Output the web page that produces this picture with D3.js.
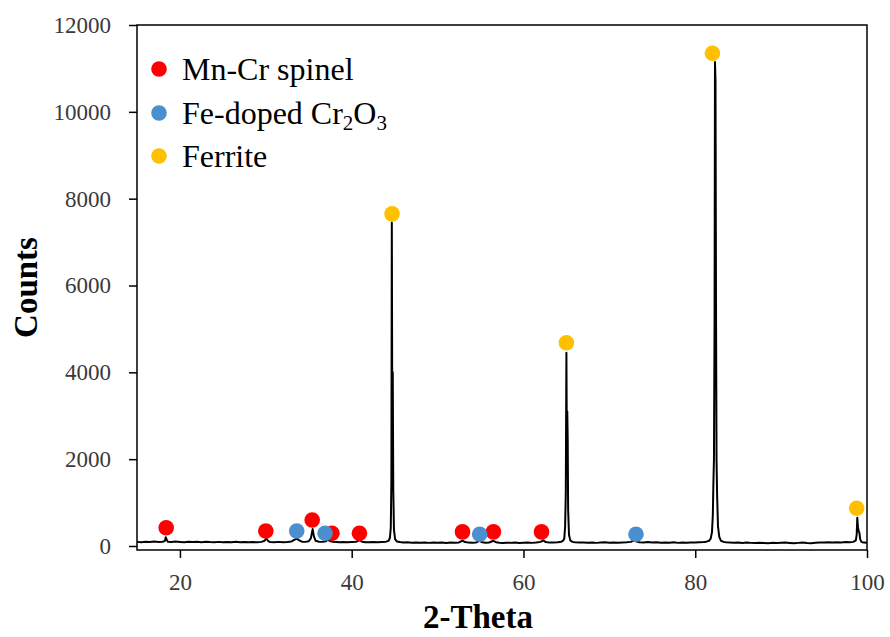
<!DOCTYPE html>
<html><head><meta charset="utf-8">
<script src="https://cdn.jsdelivr.net/npm/d3@7"></script>
<style>
html,body{margin:0;padding:0;background:#fff;}
svg{display:block;}
</style></head>
<body>
<svg id="chart" width="890" height="637"></svg>
<script>
// ---- data ----
const xTicks = [20, 40, 60, 80, 100];
const yTicks = [0, 2000, 4000, 6000, 8000, 10000, 12000];
const legendLabels = ["Mn-Cr spinel", "Fe-doped Cr2O3", "Ferrite"];
const phaseColors = ["#ff0000", "#4a8fcf", "#ffc000"];

// XRD pattern [2theta, counts]
const pattern = [
  [15.0,95],[15.5,88],[16.0,100],[16.5,92],[17.0,105],[17.5,90],[18.0,98],[18.25,120],[18.35,200],[18.45,150],[18.6,95],
  [19.0,90],[19.5,102],[20.0,94],[20.5,88],[21.0,100],[21.5,92],[22.0,96],[22.5,85],[23.0,98],[23.5,90],[24.0,86],
  [24.5,95],[25.0,88],[25.5,93],[26.0,84],[26.5,96],[27.0,88],[27.5,92],[28.0,85],[28.5,90],[29.0,86],[29.5,95],
  [29.85,120],[30.05,175],[30.25,120],[30.5,92],[31.0,88],[31.5,95],[32.0,86],[32.5,92],[33.0,105],[33.3,140],
  [33.6,170],[33.9,130],[34.2,100],[34.6,95],[35.0,110],[35.25,180],[35.45,390],[35.6,220],[35.8,120],[36.2,100],
  [36.6,95],[37.0,110],[37.2,150],[37.45,115],[37.8,95],[38.2,90],[38.6,86],[39.0,92],[39.5,85],[40.0,90],[40.5,95],
  [40.9,135],[41.2,100],[41.6,88],[42.0,84],[42.5,90],[43.0,86],[43.5,92],[44.0,100],[44.3,120],[44.45,190],
  [44.55,420],[44.62,1500],[44.67,7450],[44.72,3300],[44.78,4000],[44.84,1300],[44.92,380],[45.05,160],[45.25,105],
  [45.6,90],[46.0,80],[46.5,84],[47.0,76],[47.5,82],[48.0,74],[48.5,80],[49.0,72],[49.5,78],[50.0,75],[50.5,80],
  [51.0,70],[51.5,78],[52.0,74],[52.5,82],[52.9,125],[53.2,90],[53.6,78],[54.0,74],[54.5,82],[54.9,120],[55.2,86],
  [55.6,76],[56.0,80],[56.5,120],[56.8,88],[57.2,75],[57.6,70],[58.0,76],[58.5,72],[59.0,78],[59.5,70],[60.0,74],
  [60.5,78],[61.0,72],[61.5,80],[62.0,95],[62.3,130],[62.6,90],[63.0,78],[63.5,82],[64.0,88],[64.4,100],[64.6,120],
  [64.75,170],[64.85,450],[64.93,1250],[65.0,4450],[65.05,2300],[65.1,3100],[65.15,2450],[65.2,850],[65.3,260],
  [65.45,130],[65.7,95],[66.0,85],[66.5,78],[67.0,82],[67.5,74],[68.0,80],[68.5,72],[69.0,78],[69.5,84],[70.0,76],
  [70.5,82],[71.0,74],[71.5,80],[72.0,86],[72.5,95],[72.8,125],[73.1,110],[73.5,88],[74.0,80],[74.5,92],[75.0,78],
  [75.5,85],[76.0,74],[76.5,82],[77.0,76],[77.5,84],[78.0,72],[78.5,80],[79.0,76],[79.5,82],[80.0,78],[80.5,84],
  [81.0,90],[81.3,100],[81.6,120],[81.8,170],[81.95,320],[82.05,720],[82.12,1500],[82.18,2000],[82.25,5200],
  [82.3,11150],[82.36,10700],[82.42,5500],[82.48,2000],[82.55,1150],[82.65,450],[82.8,210],[83.0,120],[83.3,95],
  [83.6,84],[84.0,80],[84.5,74],[85.0,82],[85.5,70],[86.0,78],[86.5,72],[87.0,68],[87.5,76],[88.0,70],[88.5,66],
  [89.0,74],[89.5,68],[90.0,72],[90.5,78],[91.0,70],[91.5,64],[92.0,72],[92.5,80],[93.0,70],[93.5,66],[94.0,74],
  [94.5,82],[95.0,78],[95.5,86],[96.0,80],[96.5,88],[97.0,82],[97.5,90],[98.0,86],[98.4,95],[98.7,130],[98.8,260],
  [98.87,650],[98.95,420],[99.05,330],[99.12,300],[99.2,160],[99.35,95],[99.6,78],[100.0,75]
];

// phase markers [2theta, counts]
const spinelX = [18.4, 30.0, 35.4, 37.7, 40.9, 52.9, 56.5, 62.1];
const spinelY = [420, 345, 600, 295, 295, 325, 325, 325];
const cr2o3X = [33.6, 36.9, 54.9, 73.1];
const cr2o3Y = [345, 295, 270, 270];
const ferriteX = [44.7, 65.0, 82.0, 98.8];
const ferriteY = [7650, 4680, 11350, 870];

// ---- layout ----
const svg = d3.select("#chart");
const L = 137, R = 867, T = 25, B = 550;
const x = d3.scaleLinear().domain([15, 100]).range([L, R]);
const y = d3.scaleLinear().domain([0, 12000]).range([546, 25]);
const serif = "'Liberation Serif','Times New Roman',serif";

// box
svg.append("rect").attr("x", L).attr("y", T).attr("width", R - L).attr("height", B - T)
  .attr("fill", "none").attr("stroke", "#000").attr("stroke-width", 1.5);

// x axis
const xAxis = svg.append("g").attr("transform", `translate(0,${B})`)
  .call(d3.axisBottom(x).tickValues(xTicks).tickSize(8).tickPadding(16).tickFormat(d3.format("d")));
xAxis.select(".domain").remove();
xAxis.selectAll("line").attr("stroke", "#000").attr("stroke-width", 1.5);
xAxis.selectAll("text").attr("font-family", serif).attr("font-size", 23).attr("fill", "#3a3a3a");

// y axis
const yAxis = svg.append("g").attr("transform", `translate(${L},0)`)
  .call(d3.axisLeft(y).tickValues(yTicks).tickSize(8).tickPadding(18).tickFormat(d3.format("d")));
yAxis.select(".domain").remove();
yAxis.selectAll("line").attr("stroke", "#000").attr("stroke-width", 1.5);
yAxis.selectAll("text").attr("font-family", serif).attr("font-size", 23).attr("fill", "#3a3a3a");

// axis titles
svg.append("text").attr("x", 478).attr("y", 628).attr("text-anchor", "middle")
  .attr("font-family", serif).attr("font-weight", "bold").attr("font-size", 33).text("2-Theta");
svg.append("text").attr("transform", `translate(37,${(T + B) / 2}) rotate(-90)`).attr("text-anchor", "middle")
  .attr("font-family", serif).attr("font-weight", "bold").attr("font-size", 33).text("Counts");

// pattern line
svg.append("path").datum(pattern)
  .attr("fill", "none").attr("stroke", "#000").attr("stroke-width", 2).attr("stroke-linejoin", "round")
  .attr("d", d3.line().x(d => x(d[0])).y(d => y(d[1])));

// markers
function dots(xs, ys, color) {
  svg.append("g").selectAll("circle").data(xs.map((v, i) => [v, ys[i]])).join("circle")
    .attr("cx", d => x(d[0])).attr("cy", d => y(d[1])).attr("r", 7.8).attr("fill", color);
}
dots(spinelX, spinelY, phaseColors[0]);
dots(cr2o3X, cr2o3Y, phaseColors[1]);
dots(ferriteX, ferriteY, phaseColors[2]);

// legend
const lg = svg.append("g");
const rowsY = [69, 113, 156];
legendLabels.forEach((lab, i) => {
  lg.append("circle").attr("cx", 159).attr("cy", rowsY[i]).attr("r", 7.8).attr("fill", phaseColors[i]);
  const t = lg.append("text").attr("x", 182).attr("y", rowsY[i] + 11).attr("font-family", serif)
    .attr("font-size", 32).attr("fill", "#000");
  if (lab === "Fe-doped Cr2O3") {
    t.append("tspan").text("Fe-doped Cr");
    t.append("tspan").attr("font-size", 21).attr("dy", 6).text("2");
    t.append("tspan").attr("dy", -6).text("O");
    t.append("tspan").attr("font-size", 21).attr("dy", 6).text("3");
  } else {
    t.text(lab);
  }
});
</script>
</body></html>
